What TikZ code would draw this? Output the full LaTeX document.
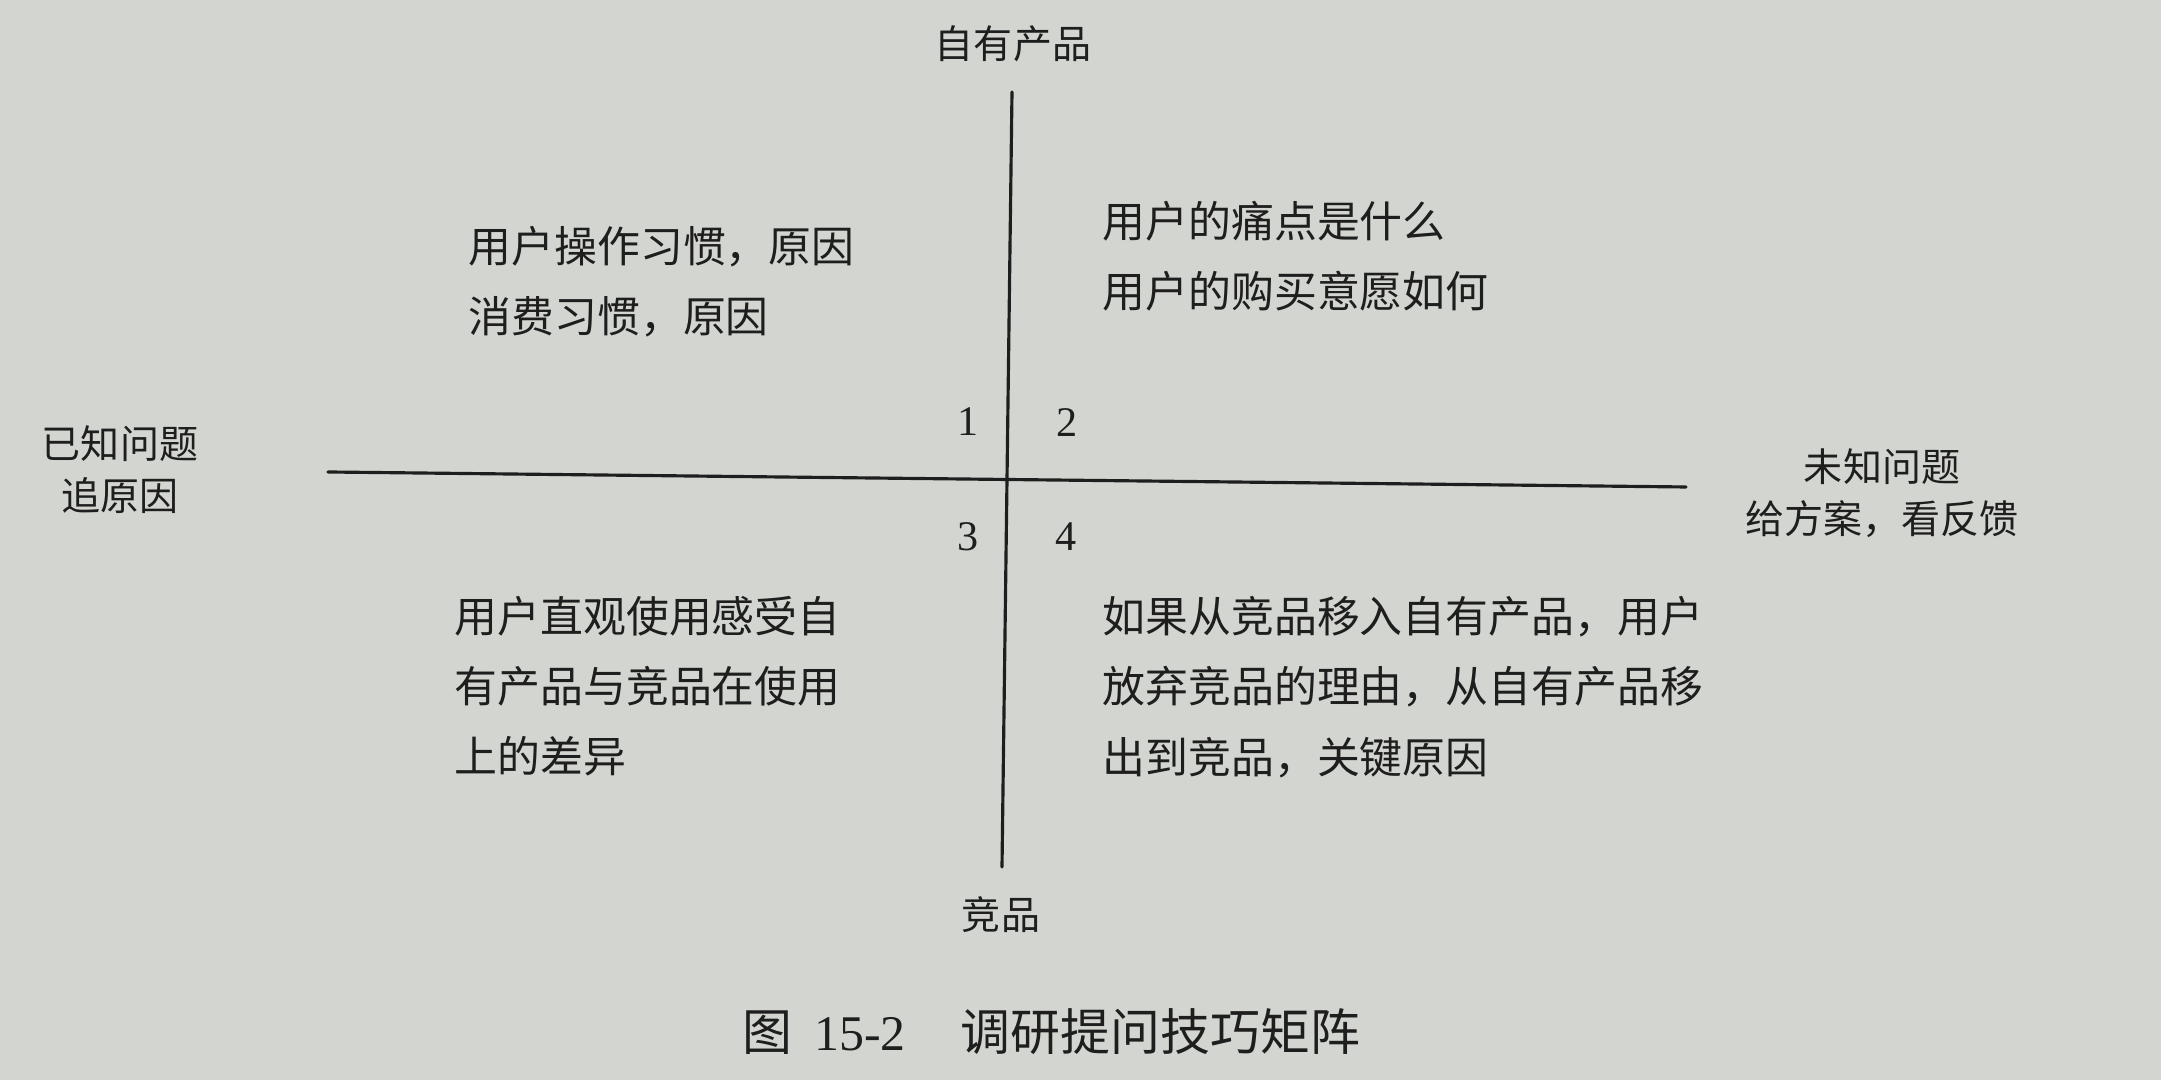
\documentclass[tikz,border=0pt]{standalone}
\usepackage{fontspec}
\usepackage{tkz-euclide}
\setmainfont{Liberation Serif}
\newfontfamily\cjk{Noto Sans CJK SC}
\definecolor{paper}{HTML}{D3D6D0}
\definecolor{ink}{HTML}{1E1E1E}

\begin{document}
\begin{tikzpicture}[
  axislabel/.style={inner sep=0pt,align=center,text=ink,font=\cjk\fontsize{11.1pt}{14.8pt}\selectfont},
  quadtext/.style={inner sep=0pt,align=left,anchor=west,text=ink,font=\cjk\fontsize{12.2pt}{20pt}\selectfont},
  quadnum/.style={inner sep=0pt,text=ink,font=\fontsize{12pt}{14pt}\selectfont}]
\fill[paper] (0,0) rectangle (21.61,10.80);
\useasboundingbox (0,0) rectangle (21.61,10.80);
% the two axes
\tkzDefPoint(10.12,9.88){T}
\tkzDefPoint(10.02,2.13){B}
\tkzDefPoint(3.28,6.08){L}
\tkzDefPoint(16.86,5.93){R}
\tkzDrawSegments[line width=0.9pt,color=ink](T,B L,R)
% axis labels
\node[axislabel] (own) at (10.13,10.36) {自有产品};
\node[axislabel] (rival) at (10.01,1.65) {竞品};
\node[axislabel] (known) at (1.20,6.10) {已知问题\\追原因};
\node[axislabel] (unknown) at (18.82,5.87) {未知问题\\给方案，看反馈};
% quadrant numbers
\foreach \n/\x/\y in {1/9.68/6.58,2/10.67/6.57,3/9.68/5.43,4/10.66/5.43}
	{
	\node[quadnum] (num\n) at (\x,\y) {\n};
	}
% quadrant texts
\node[quadtext] (qa) at (4.68,7.98) {用户操作习惯，原因\\消费习惯，原因};
\node[quadtext] (qb) at (11.02,8.24) {用户的痛点是什么\\用户的购买意愿如何};
\node[quadtext] (qc) at (4.54,3.94) {用户直观使用感受自\\有产品与竞品在使用\\上的差异};
\node[quadtext] (qd) at (11.02,3.93) {如果从竞品移入自有产品，用户\\放弃竞品的理由，从自有产品移\\出到竞品，关键原因};
% caption
\node[inner sep=0pt,text=ink,font=\fontsize{14.2pt}{17pt}\selectfont] (caption) at (10.51,0.48)
	{{\cjk 图}\hspace{0.45em}15-2\hspace{1.1em}{\cjk 调研提问技巧矩阵}};
\end{tikzpicture}
\end{document}
